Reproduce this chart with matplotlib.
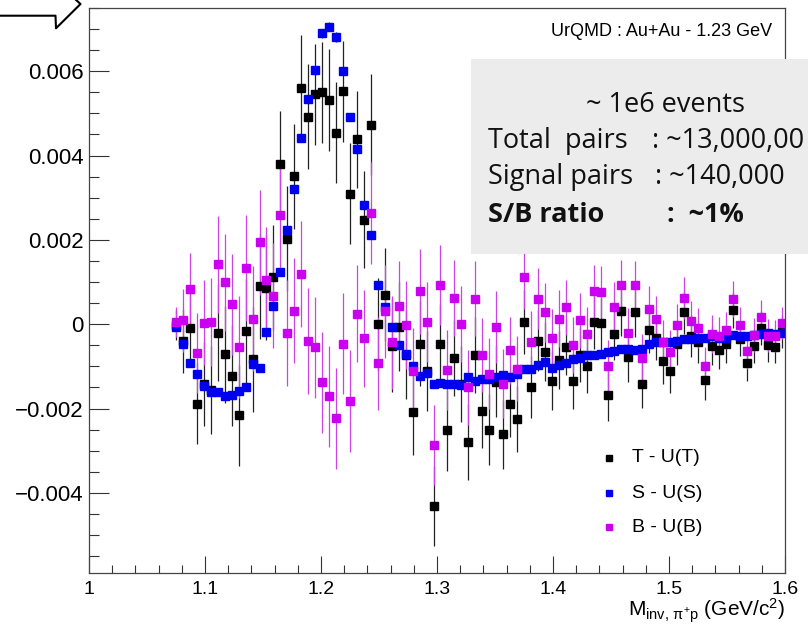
import numpy as np
import matplotlib
matplotlib.use("Agg")
import matplotlib.pyplot as plt
from matplotlib.lines import Line2D
from matplotlib.patches import Rectangle
from matplotlib.ticker import AutoMinorLocator

# histogram binning: 100 bins in [1.0, 1.6], data starts at bin 12
n_bins = 100
m_range = (1.0, 1.6)
first_bin = 12

# values in units of 1e-3, bins 12..99
t_minus_ut = [
    -0.02, -0.40, -0.10, -1.88, -1.42, -1.56, -0.20, -0.71, -1.22, -2.16,
    -0.17, -0.83, 0.90, 0.87, 1.11, 3.80, 2.03, 3.51, 5.61, 4.92,
    5.45, 5.50, 5.32, 4.54, 5.52, 3.10, 4.39, 2.48, 4.73, 0.00,
    0.70, -0.51, -0.06, -0.72, -2.09, -0.46, -1.11, -4.31, -0.48, -2.52,
    -0.81, -1.42, -2.79, -0.73, -2.05, -2.50, -1.36, -2.61, -1.88, -2.24,
    0.05, -1.49, -0.39, -0.65, -1.34, -0.85, -0.54, -1.34, -0.72, -0.99,
    0.05, 0.02, -1.67, -0.24, 0.32, -0.78, 0.28, -1.42, -0.13, -0.32,
    -0.88, -1.12, -0.46, 0.28, -0.28, -0.43, -1.33, -0.52, -0.60, -0.48,
    0.34, -0.34, -0.93, -0.52, -0.09, -0.49, -0.54, -0.19,
]
s_minus_us = [
    -0.06, -0.48, -0.93, -1.17, -1.46, -1.61, -1.61, -1.71, -1.69, -1.59,
    -1.50, -0.95, -1.03, -0.18, 0.43, 1.24, 2.24, 3.20, 4.42, 5.33,
    6.02, 6.90, 7.06, 6.81, 6.00, 4.92, 4.15, 2.82, 2.11, 0.94,
    0.41, -0.06, -0.50, -0.70, -0.98, -1.23, -1.15, -1.42, -1.40, -1.41,
    -1.42, -1.43, -1.26, -1.35, -1.30, -1.31, -1.26, -1.20, -1.26, -1.17,
    -1.06, -1.06, -0.97, -0.90, -1.03, -0.96, -0.92, -0.83, -0.81, -0.73,
    -0.72, -0.70, -0.67, -0.64, -0.59, -0.58, -0.62, -0.59, -0.47, -0.43,
    -0.43, -0.43, -0.40, -0.35, -0.34, -0.33, -0.33, -0.28, -0.33, -0.33,
    -0.25, -0.28, -0.28, -0.26, -0.24, -0.21, -0.24, -0.21,
]
b_minus_ub = [
    0.05, 0.09, 0.84, -0.69, 0.04, 0.05, 1.42, 1.00, 0.47, -0.54,
    1.33, 0.13, 1.94, 1.06, 0.68, 2.58, -0.21, 0.32, 1.19, -0.40,
    -0.55, -1.38, -1.71, -2.23, -0.46, -1.82, 0.25, -0.33, 2.64, -0.93,
    0.31, -0.43, 0.44, -0.02, -1.10, 0.78, 0.06, -2.87, 0.94, -1.09,
    0.62, 0.01, -1.50, 0.61, -0.73, -1.17, -0.07, -1.41, -0.62, -1.05,
    1.13, -0.42, 0.61, 0.28, -0.33, 0.13, 0.40, -0.49, 0.09, -0.23,
    0.78, 0.77, -0.99, 0.40, 0.92, -0.20, 0.92, -0.81, 0.36, 0.13,
    -0.43, -0.66, -0.02, 0.63, 0.07, -0.09, -0.99, -0.23, -0.27, -0.14,
    0.60, -0.02, -0.64, -0.26, 0.17, -0.27, -0.28, 0.02,
]
# error bars (1e-3), T and B share about the same size
err_tb = [
    0.35, 0.75, 0.85, 0.95, 1.00, 1.05, 1.15, 1.15, 1.20, 1.20,
    1.25, 1.25, 1.25, 1.25, 1.25, 1.25, 1.25, 1.25, 1.25, 1.25,
    1.20, 1.20, 1.20, 1.20, 1.20, 1.20, 1.15, 1.15, 1.20, 1.10,
    1.10, 1.10, 1.05, 1.05, 1.00, 1.00, 0.95, 0.95, 0.95, 0.95,
    0.90, 0.90, 0.90, 0.90, 0.88, 0.85, 0.85, 0.82, 0.80, 0.78,
    0.76, 0.74, 0.72, 0.70, 0.70, 0.68, 0.66, 0.66, 0.65, 0.64,
    0.63, 0.62, 0.62, 0.60, 0.60, 0.58, 0.58, 0.57, 0.55, 0.54,
    0.53, 0.52, 0.50, 0.50, 0.49, 0.48, 0.46, 0.45, 0.45, 0.44,
    0.43, 0.42, 0.42, 0.41, 0.40, 0.40, 0.39, 0.38,
]
err_s = [
    0.04, 0.05, 0.05, 0.05, 0.05, 0.05, 0.05, 0.05, 0.05, 0.05,
    0.05, 0.05, 0.05, 0.05, 0.06, 0.07, 0.08, 0.09, 0.10, 0.10,
    0.11, 0.11, 0.11, 0.11, 0.10, 0.10, 0.09, 0.08, 0.08, 0.07,
    0.06, 0.06, 0.05, 0.05, 0.05, 0.05, 0.05, 0.05, 0.05, 0.05,
    0.05, 0.05, 0.05, 0.05, 0.05, 0.05, 0.05, 0.05, 0.05, 0.05,
    0.05, 0.05, 0.05, 0.05, 0.05, 0.05, 0.05, 0.05, 0.05, 0.05,
    0.04, 0.04, 0.04, 0.04, 0.04, 0.04, 0.04, 0.04, 0.04, 0.04,
    0.04, 0.04, 0.04, 0.04, 0.04, 0.04, 0.04, 0.04, 0.04, 0.04,
    0.04, 0.04, 0.04, 0.04, 0.04, 0.04, 0.04, 0.04,
]

labels = ["T - U(T)", "S - U(S)", "B - U(B)"]
colors = ["#000000", "#0000f0", "#cc00f0"]
bar_colors = ["#222222", "#0000f0", "#cc44e6"]

y_ticks = [-0.004, -0.002, 0.0, 0.002, 0.004, 0.006]
y_ticklabels = ["\u22120.004", "\u22120.002", "0", "0.002", "0.004", "0.006"]
x_ticks = [1.0, 1.1, 1.2, 1.3, 1.4, 1.5, 1.6]
x_ticklabels = ["1", "1.1", "1.2", "1.3", "1.4", "1.5", "1.6"]

plt.rcParams["font.family"] = ["Liberation Sans", "DejaVu Sans"]
plt.rcParams["mathtext.fontset"] = "custom"
plt.rcParams["mathtext.rm"] = "Liberation Sans"
plt.rcParams["mathtext.it"] = "Liberation Sans:italic"

W, H = 808, 627
fig = plt.figure(figsize=(W / 100, H / 100), dpi=100)
fig.patch.set_facecolor("white")


def fx(px):
    return px / W


def fy(py):
    return 1 - py / H


ax = fig.add_axes([fx(89), fy(573), fx(785) - fx(89), fy(8) - fy(573)])

edges = np.linspace(m_range[0], m_range[1], n_bins + 1)
centers = 0.5 * (edges[:-1] + edges[1:])
x = centers[first_bin:first_bin + len(t_minus_ut)]
half_w = 0.5 * (edges[1] - edges[0])

series = [t_minus_ut, s_minus_us, b_minus_ub]
errors = [err_tb, err_s, err_tb]
for vals, errs, col, bcol in zip(series, errors, colors, bar_colors):
    ax.errorbar(x, np.array(vals) * 1e-3, yerr=np.array(errs) * 1e-3,
                xerr=half_w, fmt="s", ms=5.2, mfc=col, mec=col,
                ecolor=bcol, elinewidth=0.9, capsize=0)

ax.set_xlim(*m_range)
ax.set_ylim(-0.0059, 0.0075)

# ROOT-like axes: ticks inside, only left and bottom
ax.set_xticks(x_ticks)
ax.set_xticklabels(x_ticklabels)
ax.set_yticks(y_ticks)
ax.set_yticklabels(y_ticklabels)
ax.xaxis.set_minor_locator(AutoMinorLocator(5))
ax.yaxis.set_minor_locator(AutoMinorLocator(4))
ax.tick_params(which="both", direction="in", top=False, right=False,
               color="#333333", width=0.8)
ax.tick_params(axis="x", which="major", length=12.5, pad=6, labelsize=14)
ax.tick_params(axis="x", which="minor", length=6)
ax.tick_params(axis="y", which="major", length=14.5, pad=4, labelsize=16)
ax.tick_params(axis="y", which="minor", length=7)
for sp in ax.spines.values():
    sp.set_color("#444444")
    sp.set_linewidth(0.9)

# x axis title, right aligned at the end of the axis
fig.text(fx(785), fy(611), r"M$_{\mathrm{inv,\,\pi^{+}p}}$ (GeV/c$^{2}$)",
         ha="right", va="center", fontsize=15)

# top label
fig.text(fx(772), fy(32), "UrQMD : Au+Au - 1.23 GeV", ha="right", va="center",
         fontsize=13)

# legend (no frame)
leg_y = [458, 493, 527]
for lab, col, ly in zip(labels, colors, leg_y):
    fig.add_artist(Line2D([fx(609)], [fy(ly)], marker="s", ms=4.2, color=col,
                          linestyle="none", transform=fig.transFigure))
    fig.text(fx(632), fy(ly), lab, ha="left", va="center", fontsize=14)

# grey info box pasted on top (runs past the right edge of the picture)
box = Rectangle((fx(471), fy(254)), fx(808) - fx(471), fy(59) - fy(254),
                transform=fig.transFigure, facecolor="#ececec",
                edgecolor="none", zorder=10)
fig.add_artist(box)
box_font = ["Open Sans", "DejaVu Sans"]
box_size = 19.5
fig.text(fx(665), fy(112), "~ 1e6 events", ha="center", va="baseline",
         fontsize=box_size, family=box_font, color="#111111", zorder=11)
# the total count is cut at the picture edge in the original
info_lines = [
    ("Total  pairs", ": ~13,000,00", 148, 652, "normal"),
    ("Signal pairs", ": ~140,000", 184, 655, "normal"),
    ("S/B ratio", ":  ~1%", 222, 667, "bold"),
]
for left, right, base, xr, wt in info_lines:
    fig.text(fx(488), fy(base), left, ha="left", va="baseline",
             fontsize=box_size, family=box_font, weight=wt, color="#111111",
             zorder=11)
    fig.text(fx(xr), fy(base), right, ha="left", va="baseline",
             fontsize=box_size, family=box_font, weight=wt, color="#111111",
             zorder=11)

# hollow arrow from the slide, cut by the top edge
arrow_px = [(0, 15.7), (55.5, 15.7), (56, 28.3), (80.5, 4), (75, -1)]
fig.add_artist(Line2D([fx(p[0]) for p in arrow_px],
                      [fy(p[1]) for p in arrow_px],
                      color="black", lw=1.5, transform=fig.transFigure))

fig.savefig("out.png", dpi=100)
